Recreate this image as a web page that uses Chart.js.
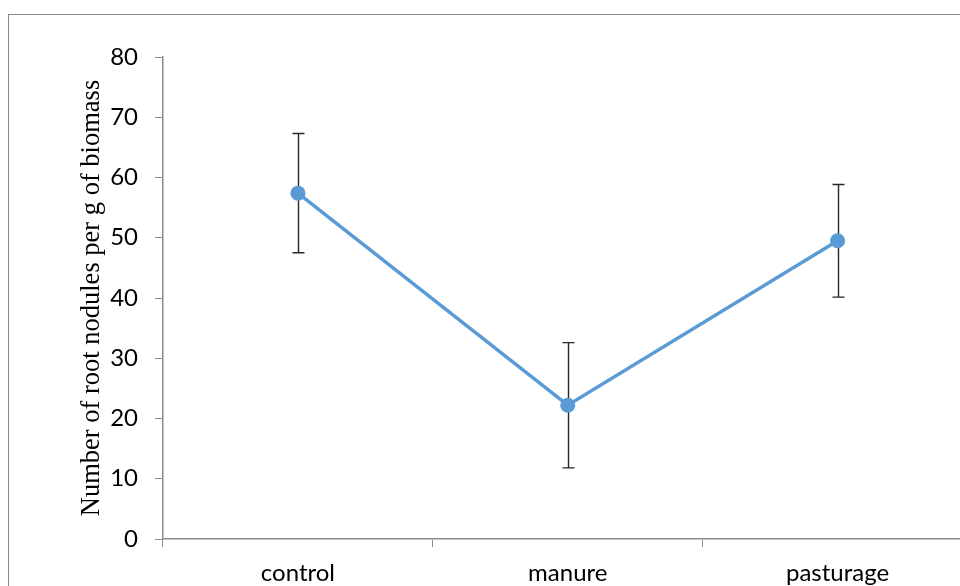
<!DOCTYPE html>
<html>
<head>
<meta charset="utf-8">
<script src="https://cdn.jsdelivr.net/npm/chart.js@4/dist/chart.umd.min.js"></script>
<style>
  html, body { margin: 0; padding: 0; background: #fff; overflow: hidden; }
  #wrap { position: relative; width: 960px; height: 586px; overflow: hidden; }
  canvas { position: absolute; left: 0; top: 0; }
</style>
</head>
<body>
<div id="wrap"><canvas id="c" width="980" height="586"></canvas></div>
<script>
// Treatments and mean nodule counts with their error amounts
const categories = ['control', 'manure', 'pasturage'];
const meanNodules = [57.4, 22.2, 49.5];
const errorAmount = [9.9, 10.4, 9.35];
const yTicks = [0, 10, 20, 30, 40, 50, 60, 70, 80];
const yTitle = 'Number of root nodules per g of biomass';

const AXIS_GRAY = '#8c8c8c';
const LINE_BLUE = '#5B9BD5';

// Outer chart frame
const framePlugin = {
  id: 'frame',
  beforeDraw(chart) {
    const ctx = chart.ctx;
    ctx.save();
    ctx.fillStyle = '#ffffff';
    ctx.fillRect(0, 0, chart.width, chart.height);
    ctx.strokeStyle = '#8a8a8a';
    ctx.lineWidth = 1;
    ctx.strokeRect(8.5, 14.5, 1100, 1100);
    ctx.restore();
  }
};

// Vertical error bars with flat caps, drawn beneath the line and points
const errorBarPlugin = {
  id: 'errorBars',
  beforeDatasetsDraw(chart) {
    const ctx = chart.ctx;
    const xs = chart.scales.x, ys = chart.scales.y;
    ctx.save();
    ctx.strokeStyle = '#262626';
    ctx.lineWidth = 1.4;
    meanNodules.forEach((m, i) => {
      const x = Math.round(xs.getPixelForValue(i)) + 0.5;
      const yTop = ys.getPixelForValue(m + errorAmount[i]);
      const yBot = ys.getPixelForValue(m - errorAmount[i]);
      const half = 6;
      ctx.beginPath();
      ctx.moveTo(x, yTop); ctx.lineTo(x, yBot);
      ctx.moveTo(x - half, yTop); ctx.lineTo(x + half, yTop);
      ctx.moveTo(x - half, yBot); ctx.lineTo(x + half, yBot);
      ctx.stroke();
    });
    ctx.restore();
  }
};

new Chart(document.getElementById('c'), {
  type: 'line',
  data: {
    labels: categories,
    datasets: [{
      data: meanNodules,
      borderColor: LINE_BLUE,
      backgroundColor: LINE_BLUE,
      borderWidth: 3.5,
      pointRadius: 7.5,
      pointHoverRadius: 7.5,
      pointBackgroundColor: LINE_BLUE,
      pointBorderColor: LINE_BLUE,
      pointBorderWidth: 0,
      tension: 0,
      fill: false
    }]
  },
  options: {
    responsive: false,
    animation: false,
    devicePixelRatio: 1,
    layout: { padding: { left: 0, top: 57, right: 7, bottom: 0 } },
    plugins: {
      legend: { display: false },
      tooltip: { enabled: false }
    },
    scales: {
      x: {
        type: 'category',
        offset: true,
        grid: {
          offset: true,
          drawOnChartArea: false,
          drawTicks: true,
          tickLength: 8,
          color: AXIS_GRAY,
          lineWidth: 1
        },
        border: { color: AXIS_GRAY, width: 1.5 },
        ticks: {
          color: '#000',
          padding: 12,
          maxRotation: 0,
          font: { family: 'Lato', size: 24 }
        },
        afterFit(scale) { scale.height = 47; }
      },
      y: {
        min: 0,
        max: 80,
        afterBuildTicks(scale) { scale.ticks = yTicks.map(v => ({ value: v })); },
        grid: {
          drawOnChartArea: false,
          drawTicks: true,
          tickLength: 8,
          color: AXIS_GRAY,
          lineWidth: 1
        },
        border: { color: AXIS_GRAY, width: 1.5 },
        ticks: {
          color: '#000',
          padding: 17,
          font: { family: 'Lato', size: 24 }
        },
        title: {
          display: true,
          text: yTitle,
          color: '#000',
          padding: { top: 76, bottom: 0 },
          font: { family: 'Liberation Serif', size: 26.5 }
        },
        afterFit(scale) { scale.width = 163; }
      }
    }
  },
  plugins: [framePlugin, errorBarPlugin]
});
</script>
</body>
</html>
